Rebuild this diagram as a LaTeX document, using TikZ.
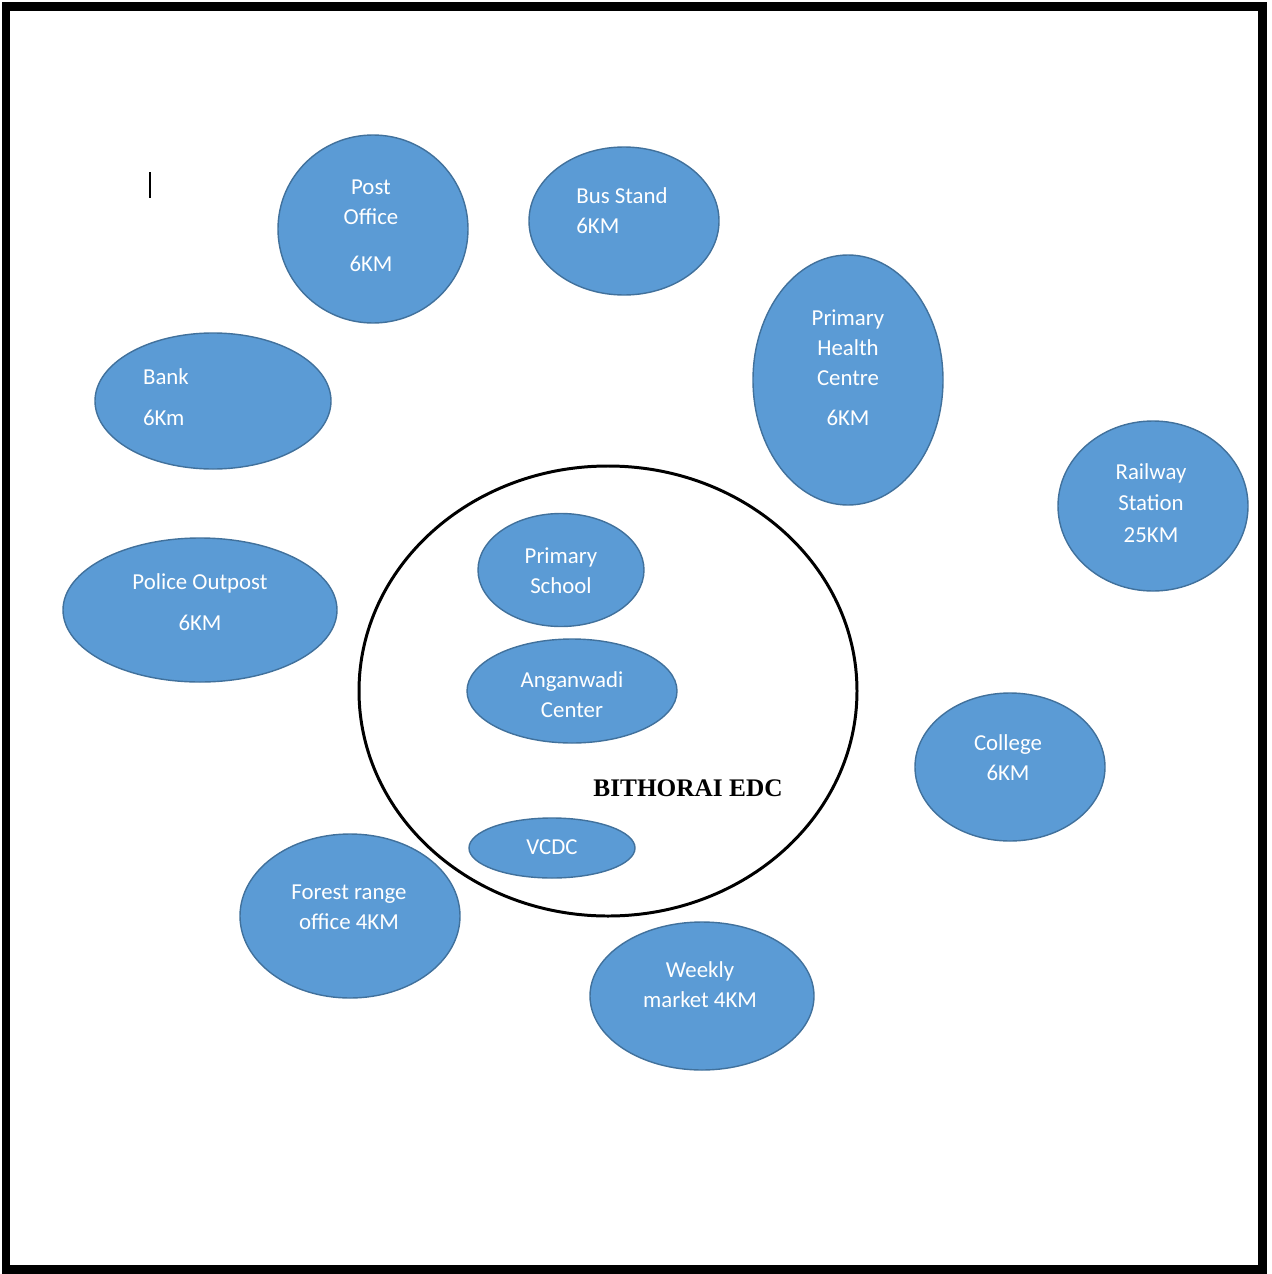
\documentclass[tikz,border=0pt]{standalone}
\usepackage{fontspec}
\setmainfont{Carlito}
\newfontfamily\titulofont{Liberation Serif}
\usetikzlibrary{shapes.geometric}
\definecolor{bolha}{HTML}{5B9BD5}
\definecolor{bordabolha}{HTML}{41719C}
\tikzset{
  lugar/.style={ellipse,draw=bordabolha,fill=bolha,line width=0.8pt,inner sep=0pt},
  esize/.style 2 args={minimum width=#1*0.02cm,minimum height=#2*0.02cm},
  rotulo/.style={text=white,font=\fontsize{13pt}{17pt}\selectfont,align=center,inner sep=0pt}
}
\begin{document}
\begin{tikzpicture}[x=0.02cm,y=-0.02cm]
  \useasboundingbox (0,0) rectangle (1271,1274);
  %moldura
  \draw[line width=0.18cm] (6,7) rectangle (1262,1269);
  %cursor
  \draw[line width=0.04cm] (150,172) -- (150,198);

  %circulo central
  \node[draw,line width=1.7pt,ellipse,minimum width=498*0.02cm,minimum height=450*0.02cm] (edc) at (608,691) {};
  \node[font=\titulofont\bfseries\fontsize{14.4pt}{16pt}\selectfont] (nome) at (688,788) {BITHORAI EDC};
  \node[lugar,esize={166}{113}] (escola) at (561,570) {};
  \node[rotulo] (escolatxt) at (561,571) {Primary\\School};
  \node[lugar,esize={210}{104}] (angan) at (572,691) {};
  \node[rotulo] (angantxt) at (572,695) {Anganwadi\\Center};
  \node[lugar,esize={166}{60}] (vcdc) at (552,848) {};
  \node[rotulo] (vcdctxt) at (552,847) {VCDC};

  %servicos em volta
  \node[lugar,esize={190}{188}] (correio) at (373,229) {};
  \node[rotulo] (correiotxt) at (371,226) {Post\\Office\\[10pt]6KM};
  \node[lugar,esize={190}{148}] (onibus) at (624,221) {};
  \node[rotulo,align=left] (onibustxt) at (622,211) {Bus Stand\\6KM};
  \node[lugar,esize={190}{250}] (saude) at (848,380) {};
  \node[rotulo] (saudetxt) at (848,368) {Primary\\Health\\Centre\\[6pt]6KM};
  \node[lugar,esize={236}{136}] (banco) at (213,401) {};
  \node[rotulo,align=left] (bancotxt) at (166,397) {Bank\\[6pt]6Km};
  \node[lugar,esize={190}{170}] (trem) at (1153,506) {};
  \node[rotulo,font=\fontsize{13pt}{18pt}\selectfont] (tremtxt) at (1151,503) {Railway\\Station\\25KM};
  \node[lugar,esize={274}{144}] (policia) at (200,610) {};
  \node[rotulo] (policiatxt) at (200,602) {Police Outpost\\[6pt]6KM};
  \node[lugar,esize={190}{148}] (faculdade) at (1010,767) {};
  \node[rotulo] (faculdadetxt) at (1008,758) {College\\6KM};
  \node[lugar,esize={220}{164}] (floresta) at (350,916) {};
  \node[rotulo] (florestatxt) at (349,907) {Forest range\\office 4KM};
  \node[lugar,esize={224}{148}] (feira) at (702,996) {};
  \node[rotulo] (feiratxt) at (700,985) {Weekly\\market 4KM};
\end{tikzpicture}
\end{document}
